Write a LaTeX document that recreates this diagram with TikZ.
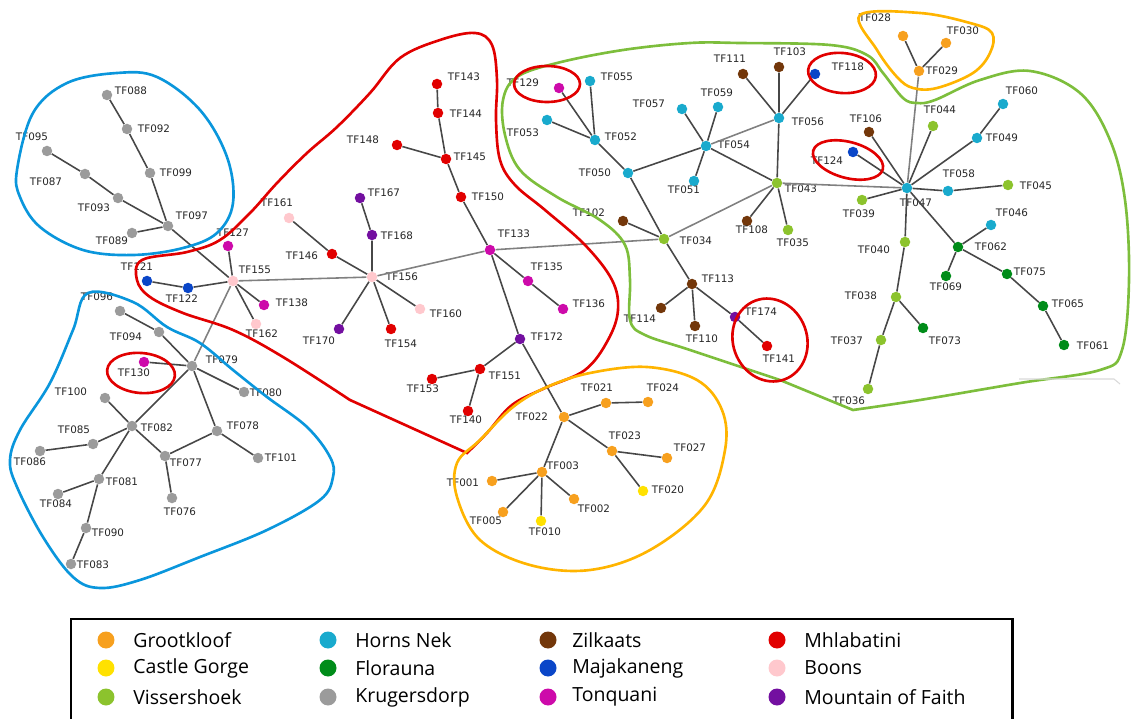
\documentclass[tikz,border=0pt]{standalone}
\usepackage{fontspec}
\usepackage{tikz}
\usetikzlibrary{shapes.geometric}
\setmainfont{DejaVu Sans}
\newfontfamily\legendfont{Open Sans}

\definecolor{grk}{RGB}{247,160,30}
\definecolor{cas}{RGB}{255,225,0}
\definecolor{vis}{RGB}{140,195,45}
\definecolor{hor}{RGB}{25,170,205}
\definecolor{flo}{RGB}{0,140,25}
\definecolor{kru}{RGB}{155,155,155}
\definecolor{zil}{RGB}{115,55,10}
\definecolor{maj}{RGB}{10,70,200}
\definecolor{ton}{RGB}{205,10,170}
\definecolor{mhl}{RGB}{225,0,0}
\definecolor{boo}{RGB}{255,200,205}
\definecolor{mof}{RGB}{115,15,160}
\definecolor{hblue}{RGB}{10,150,220}
\definecolor{hred}{RGB}{225,0,0}
\definecolor{hgreen}{RGB}{125,190,60}
\definecolor{hora}{RGB}{255,180,0}

\begin{document}
\begin{tikzpicture}[x=0.02cm, y=-0.02cm,
  dot/.style={circle, inner sep=0pt, minimum size=0.21cm},
  lbl/.style={inner sep=0pt, text=black!85, font=\fontsize{5.9}{7}\selectfont},
  lnk/.style={line width=0.9pt, color=black!72},
  far/.style={line width=0.9pt, color=black!50},
  hull/.style={line width=1.5pt},
  ring/.style={line width=1.5pt, color=hred},
  swatch/.style={circle, inner sep=0pt, minimum size=0.34cm},
  keytext/.style={anchor=west, inner sep=0pt, font=\legendfont\fontsize{11.1}{13}\selectfont}]
\useasboundingbox (0, 0) rectangle (1132, 719);

% Krugersdorp, upper cluster
\node [dot, fill=kru] (tf088) at (107, 95) {};  \node [lbl] (l088) at (131, 91) {TF088};
\node [dot, fill=kru] (tf092) at (127, 129) {}; \node [lbl] (l092) at (154, 129) {TF092};
\node [dot, fill=kru] (tf095) at (47, 151) {};  \node [lbl] (l095) at (32, 137) {TF095};
\node [dot, fill=kru] (tf087) at (85, 174) {};  \node [lbl] (l087) at (46, 182) {TF087};
\node [dot, fill=kru] (tf099) at (150, 173) {}; \node [lbl] (l099) at (176, 173) {TF099};
\node [dot, fill=kru] (tf093) at (118, 198) {}; \node [lbl] (l093) at (94, 208) {TF093};
\node [dot, fill=kru] (tf097) at (168, 226) {}; \node [lbl] (l097) at (192, 216) {TF097};
\node [dot, fill=kru] (tf089) at (132, 233) {}; \node [lbl] (l089) at (112, 241) {TF089};

% Krugersdorp, lower cluster
\node [dot, fill=kru] (tf096) at (120, 311) {}; \node [lbl] (l096) at (97, 297) {TF096};
\node [dot, fill=kru] (tf094) at (159, 332) {}; \node [lbl] (l094) at (126, 337) {TF094};
\node [dot, fill=ton] (tf130) at (144, 362) {}; \node [lbl] (l130) at (134, 373) {TF130};
\node [dot, fill=kru] (tf079) at (192, 366) {}; \node [lbl] (l079) at (222, 360) {TF079};
\node [dot, fill=kru] (tf080) at (244, 392) {}; \node [lbl] (l080) at (266, 393) {TF080};
\node [dot, fill=kru] (tf100) at (105, 398) {}; \node [lbl] (l100) at (71, 392) {TF100};
\node [dot, fill=kru] (tf082) at (132, 426) {}; \node [lbl] (l082) at (157, 428) {TF082};
\node [dot, fill=kru] (tf078) at (217, 431) {}; \node [lbl] (l078) at (243, 426) {TF078};
\node [dot, fill=kru] (tf085) at (93, 444) {};  \node [lbl] (l085) at (74, 430) {TF085};
\node [dot, fill=kru] (tf086) at (40, 451) {};  \node [lbl] (l086) at (30, 462) {TF086};
\node [dot, fill=kru] (tf077) at (165, 456) {}; \node [lbl] (l077) at (186, 463) {TF077};
\node [dot, fill=kru] (tf101) at (258, 458) {}; \node [lbl] (l101) at (281, 458) {TF101};
\node [dot, fill=kru] (tf081) at (99, 479) {};  \node [lbl] (l081) at (122, 482) {TF081};
\node [dot, fill=kru] (tf084) at (58, 494) {};  \node [lbl] (l084) at (56, 504) {TF084};
\node [dot, fill=kru] (tf076) at (172, 498) {}; \node [lbl] (l076) at (180, 512) {TF076};
\node [dot, fill=kru] (tf090) at (86, 528) {};  \node [lbl] (l090) at (108, 533) {TF090};
\node [dot, fill=kru] (tf083) at (71, 564) {};  \node [lbl] (l083) at (93, 565) {TF083};

% middle cluster
\node [dot, fill=mhl] (tf143) at (437, 84) {};  \node [lbl] (l143) at (464, 77) {TF143};
\node [dot, fill=mhl] (tf144) at (438, 113) {}; \node [lbl] (l144) at (466, 114) {TF144};
\node [dot, fill=mhl] (tf148) at (397, 145) {}; \node [lbl] (l148) at (363, 140) {TF148};
\node [dot, fill=mhl] (tf145) at (446, 159) {}; \node [lbl] (l145) at (470, 157) {TF145};
\node [dot, fill=mhl] (tf150) at (461, 197) {}; \node [lbl] (l150) at (488, 197) {TF150};
\node [dot, fill=ton] (tf133) at (490, 250) {}; \node [lbl] (l133) at (514, 234) {TF133};
\node [dot, fill=mof] (tf167) at (360, 198) {}; \node [lbl] (l167) at (384, 193) {TF167};
\node [dot, fill=mof] (tf168) at (372, 235) {}; \node [lbl] (l168) at (397, 236) {TF168};
\node [dot, fill=boo] (tf161) at (289, 218) {}; \node [lbl] (l161) at (277, 203) {TF161};
\node [dot, fill=mhl] (tf146) at (332, 254) {}; \node [lbl] (l146) at (302, 256) {TF146};
\node [dot, fill=boo] (tf156) at (372, 277) {}; \node [lbl] (l156) at (402, 277) {TF156};
\node [dot, fill=boo] (tf155) at (233, 281) {}; \node [lbl] (l155) at (255, 270) {TF155};
\node [dot, fill=ton] (tf127) at (228, 246) {}; \node [lbl] (l127) at (233, 233) {TF127};
\node [dot, fill=maj] (tf121) at (147, 281) {}; \node [lbl] (l121) at (137, 267) {TF121};
\node [dot, fill=maj] (tf122) at (188, 288) {}; \node [lbl] (l122) at (182, 299) {TF122};
\node [dot, fill=ton] (tf138) at (264, 305) {}; \node [lbl] (l138) at (292, 303) {TF138};
\node [dot, fill=boo] (tf162) at (256, 324) {}; \node [lbl] (l162) at (262, 334) {TF162};
\node [dot, fill=mof] (tf170) at (339, 329) {}; \node [lbl] (l170) at (319, 341) {TF170};
\node [dot, fill=mhl] (tf154) at (391, 329) {}; \node [lbl] (l154) at (401, 344) {TF154};
\node [dot, fill=boo] (tf160) at (420, 309) {}; \node [lbl] (l160) at (446, 314) {TF160};
\node [dot, fill=ton] (tf135) at (528, 281) {}; \node [lbl] (l135) at (547, 267) {TF135};
\node [dot, fill=ton] (tf136) at (563, 309) {}; \node [lbl] (l136) at (589, 304) {TF136};
\node [dot, fill=mof] (tf172) at (520, 339) {}; \node [lbl] (l172) at (547, 337) {TF172};
\node [dot, fill=mhl] (tf151) at (480, 369) {}; \node [lbl] (l151) at (505, 376) {TF151};
\node [dot, fill=mhl] (tf153) at (432, 379) {}; \node [lbl] (l153) at (423, 389) {TF153};
\node [dot, fill=mhl] (tf140) at (468, 411) {}; \node [lbl] (l140) at (466, 420) {TF140};

% Grootkloof, lower cluster
\node [dot, fill=grk] (tf022) at (564, 417) {}; \node [lbl] (l022) at (532, 417) {TF022};
\node [dot, fill=grk] (tf021) at (606, 403) {}; \node [lbl] (l021) at (597, 388) {TF021};
\node [dot, fill=grk] (tf024) at (648, 402) {}; \node [lbl] (l024) at (663, 388) {TF024};
\node [dot, fill=grk] (tf023) at (612, 451) {}; \node [lbl] (l023) at (625, 436) {TF023};
\node [dot, fill=grk] (tf027) at (667, 458) {}; \node [lbl] (l027) at (690, 448) {TF027};
\node [dot, fill=grk] (tf003) at (542, 472) {}; \node [lbl] (l003) at (563, 466) {TF003};
\node [dot, fill=grk] (tf001) at (492, 481) {}; \node [lbl] (l001) at (463, 483) {TF001};
\node [dot, fill=grk] (tf002) at (574, 499) {}; \node [lbl] (l002) at (594, 509) {TF002};
\node [dot, fill=grk] (tf005) at (503, 512) {}; \node [lbl] (l005) at (486, 521) {TF005};
\node [dot, fill=cas] (tf010) at (541, 521) {}; \node [lbl] (l010) at (545, 532) {TF010};
\node [dot, fill=cas] (tf020) at (643, 491) {}; \node [lbl] (l020) at (668, 490) {TF020};

% Horns Nek and neighbours
\node [dot, fill=ton] (tf129) at (559, 88) {};  \node [lbl] (l129) at (523, 83) {TF129};
\node [dot, fill=hor] (tf055) at (590, 81) {};  \node [lbl] (l055) at (617, 77) {TF055};
\node [dot, fill=hor] (tf053) at (547, 120) {}; \node [lbl] (l053) at (523, 133) {TF053};
\node [dot, fill=hor] (tf052) at (595, 140) {}; \node [lbl] (l052) at (621, 137) {TF052};
\node [dot, fill=hor] (tf050) at (628, 173) {}; \node [lbl] (l050) at (595, 173) {TF050};
\node [dot, fill=hor] (tf057) at (682, 109) {}; \node [lbl] (l057) at (649, 104) {TF057};
\node [dot, fill=hor] (tf059) at (718, 107) {}; \node [lbl] (l059) at (717, 93) {TF059};
\node [dot, fill=hor] (tf054) at (706, 146) {}; \node [lbl] (l054) at (734, 145) {TF054};
\node [dot, fill=hor] (tf051) at (694, 181) {}; \node [lbl] (l051) at (684, 190) {TF051};
\node [dot, fill=zil] (tf111) at (743, 74) {};  \node [lbl] (l111) at (730, 59) {TF111};
\node [dot, fill=zil] (tf103) at (779, 67) {};  \node [lbl] (l103) at (790, 52) {TF103};
\node [dot, fill=hor] (tf056) at (779, 118) {}; \node [lbl] (l056) at (808, 122) {TF056};
\node [dot, fill=vis] (tf043) at (777, 183) {}; \node [lbl] (l043) at (801, 189) {TF043};
\node [dot, fill=zil] (tf108) at (747, 221) {}; \node [lbl] (l108) at (752, 230) {TF108};
\node [dot, fill=vis] (tf035) at (788, 230) {}; \node [lbl] (l035) at (793, 243) {TF035};
\node [dot, fill=vis] (tf034) at (664, 239) {}; \node [lbl] (l034) at (696, 241) {TF034};
\node [dot, fill=zil] (tf102) at (623, 221) {}; \node [lbl] (l102) at (589, 213) {TF102};
\node [dot, fill=zil] (tf113) at (692, 284) {}; \node [lbl] (l113) at (718, 279) {TF113};
\node [dot, fill=zil] (tf114) at (661, 308) {}; \node [lbl] (l114) at (640, 319) {TF114};
\node [dot, fill=zil] (tf110) at (695, 326) {}; \node [lbl] (l110) at (702, 339) {TF110};
\node [dot, fill=mof] (tf174) at (735, 317) {}; \node [lbl] (l174) at (761, 312) {TF174};
\node [dot, fill=mhl] (tf141) at (767, 346) {}; \node [lbl] (l141) at (779, 359) {TF141};
\node [dot, fill=maj] (tf118) at (815, 74) {};  \node [lbl] (l118) at (848, 67) {TF118};
\node [dot, fill=maj] (tf124) at (853, 152) {}; \node [lbl] (l124) at (827, 161) {TF124};
\node [dot, fill=zil] (tf106) at (869, 132) {}; \node [lbl] (l106) at (866, 119) {TF106};

% right-hand cluster
\node [dot, fill=grk] (tf028) at (903, 36) {};  \node [lbl] (l028) at (875, 18) {TF028};
\node [dot, fill=grk] (tf030) at (946, 43) {};  \node [lbl] (l030) at (963, 31) {TF030};
\node [dot, fill=grk] (tf029) at (919, 71) {};  \node [lbl] (l029) at (942, 71) {TF029};
\node [dot, fill=hor] (tf060) at (1003, 104) {}; \node [lbl] (l060) at (1022, 91) {TF060};
\node [dot, fill=vis] (tf044) at (933, 126) {}; \node [lbl] (l044) at (940, 110) {TF044};
\node [dot, fill=hor] (tf049) at (977, 138) {}; \node [lbl] (l049) at (1002, 138) {TF049};
\node [dot, fill=hor] (tf047) at (907, 188) {}; \node [lbl] (l047) at (916, 203) {TF047};
\node [dot, fill=hor] (tf058) at (948, 191) {}; \node [lbl] (l058) at (959, 174) {TF058};
\node [dot, fill=vis] (tf045) at (1008, 185) {}; \node [lbl] (l045) at (1036, 186) {TF045};
\node [dot, fill=vis] (tf039) at (862, 200) {}; \node [lbl] (l039) at (859, 214) {TF039};
\node [dot, fill=hor] (tf046) at (991, 225) {}; \node [lbl] (l046) at (1012, 213) {TF046};
\node [dot, fill=vis] (tf040) at (905, 242) {}; \node [lbl] (l040) at (874, 250) {TF040};
\node [dot, fill=flo] (tf062) at (958, 247) {}; \node [lbl] (l062) at (991, 247) {TF062};
\node [dot, fill=flo] (tf069) at (946, 276) {}; \node [lbl] (l069) at (946, 287) {TF069};
\node [dot, fill=flo] (tf075) at (1007, 274) {}; \node [lbl] (l075) at (1030, 272) {TF075};
\node [dot, fill=flo] (tf065) at (1043, 306) {}; \node [lbl] (l065) at (1068, 304) {TF065};
\node [dot, fill=flo] (tf061) at (1064, 345) {}; \node [lbl] (l061) at (1093, 346) {TF061};
\node [dot, fill=vis] (tf038) at (896, 297) {}; \node [lbl] (l038) at (861, 296) {TF038};
\node [dot, fill=flo] (tf073) at (923, 328) {}; \node [lbl] (l073) at (945, 341) {TF073};
\node [dot, fill=vis] (tf037) at (881, 340) {}; \node [lbl] (l037) at (847, 341) {TF037};
\node [dot, fill=vis] (tf036) at (868, 389) {}; \node [lbl] (l036) at (849, 401) {TF036};

% links
\draw [lnk] (tf088) -- (tf092) -- (tf099) -- (tf097);
\draw [lnk] (tf095) -- (tf087) -- (tf093) -- (tf097);
\draw [lnk] (tf089) -- (tf097) -- (tf155);
\draw [lnk] (tf096) -- (tf094) -- (tf079);
\draw [lnk] (tf130) -- (tf079) -- (tf080);
\draw [lnk] (tf079) -- (tf078) -- (tf101);
\draw [lnk] (tf079) -- (tf082) -- (tf100);
\draw [lnk] (tf086) -- (tf085) -- (tf082);
\draw [lnk] (tf082) -- (tf077) -- (tf078);
\draw [lnk] (tf077) -- (tf076);
\draw [lnk] (tf082) -- (tf081) -- (tf090) -- (tf083);
\draw [lnk] (tf081) -- (tf084);
\draw [far] (tf079) -- (tf155);
\draw [lnk] (tf121) -- (tf122) -- (tf155);
\draw [lnk] (tf127) -- (tf155) -- (tf138);
\draw [lnk] (tf155) -- (tf162);
\draw [far] (tf155) -- (tf156) -- (tf133);
\draw [lnk] (tf161) -- (tf146) -- (tf156);
\draw [lnk] (tf167) -- (tf168) -- (tf156);
\draw [lnk] (tf170) -- (tf156) -- (tf154);
\draw [lnk] (tf156) -- (tf160);
\draw [lnk] (tf143) -- (tf144) -- (tf145) -- (tf150) -- (tf133);
\draw [lnk] (tf148) -- (tf145);
\draw [lnk] (tf133) -- (tf135) -- (tf136);
\draw [lnk] (tf133) -- (tf172) -- (tf022);
\draw [lnk] (tf172) -- (tf151) -- (tf153);
\draw [lnk] (tf151) -- (tf140);
\draw [lnk] (tf022) -- (tf021) -- (tf024);
\draw [lnk] (tf022) -- (tf023) -- (tf027);
\draw [lnk] (tf023) -- (tf020);
\draw [lnk] (tf022) -- (tf003) -- (tf001);
\draw [lnk] (tf002) -- (tf003) -- (tf005);
\draw [lnk] (tf003) -- (tf010);
\draw [far] (tf133) -- (tf034);
\draw [lnk] (tf129) -- (tf052) -- (tf055);
\draw [lnk] (tf053) -- (tf052) -- (tf050) -- (tf034);
\draw [lnk] (tf050) -- (tf054) -- (tf057);
\draw [lnk] (tf059) -- (tf054) -- (tf051);
\draw [lnk] (tf054) -- (tf043);
\draw [far] (tf054) -- (tf056);
\draw [lnk] (tf111) -- (tf056) -- (tf103);
\draw [lnk] (tf118) -- (tf056) -- (tf043);
\draw [far] (tf034) -- (tf043) -- (tf047);
\draw [lnk] (tf108) -- (tf043) -- (tf035);
\draw [lnk] (tf102) -- (tf034) -- (tf113) -- (tf114);
\draw [lnk] (tf113) -- (tf110);
\draw [lnk] (tf113) -- (tf174) -- (tf141);
\draw [lnk] (tf028) -- (tf029) -- (tf030);
\draw [far] (tf029) -- (tf047);
\draw [lnk] (tf060) -- (tf049) -- (tf047);
\draw [lnk] (tf044) -- (tf047) -- (tf106);
\draw [lnk] (tf124) -- (tf047) -- (tf039);
\draw [lnk] (tf047) -- (tf058) -- (tf045);
\draw [lnk] (tf047) -- (tf040) -- (tf038) -- (tf037) -- (tf036);
\draw [lnk] (tf038) -- (tf073);
\draw [lnk] (tf047) -- (tf062) -- (tf075) -- (tf065) -- (tf061);
\draw [lnk] (tf046) -- (tf062) -- (tf069);

% hulls
\draw [hull, hblue] plot [smooth cycle, tension=0.6] coordinates {(17,170) (33,113) (67,83) (117,73) (157,77) (200,110) (227,157) (233,203) (217,233) (183,248) (133,255) (83,250) (40,227) (20,197)};
\draw [hull, hblue] plot [smooth cycle, tension=0.6] coordinates {(88,293) (133,302) (167,327) (200,343) (233,370) (267,397) (307,427) (330,457) (333,477) (320,500) (267,530) (200,557) (140,580) (100,588) (73,577) (43,537) (17,487) (10,460) (20,430) (50,383) (73,330)};
\draw [hull, hred] plot [smooth, tension=0.6] coordinates {(350,400) (283,357) (233,330) (183,313) (150,297) (137,280) (142,260) (187,252) (220,240) (250,213) (277,183) (307,153) (337,127) (370,93) (400,58) (440,40) (475,33) (492,45) (497,80) (496,120) (500,160) (515,185) (545,210) (585,245) (612,280) (618,310) (608,340) (585,370) (545,388) (512,405) (487,433) (467,453)} -- cycle;
\draw [hull, hgreen] plot [smooth, tension=0.6] coordinates {(853,410) (920,400) (1020,383) (1100,370) (1122,350) (1129,280) (1125,200) (1110,140) (1080,93) (1030,71) (980,80) (935,100) (917,103) (903,98) (883,73) (867,55) (830,45) (740,43) (690,43) (623,50) (557,63) (517,77) (503,100) (505,135) (520,170) (557,197) (600,220) (625,245) (630,280) (630,320) (645,335) (690,350) (780,380)} -- cycle;
\draw [hull, hora] plot [smooth cycle, tension=0.6] coordinates {(480,440) (513,407) (547,387) (590,373) (647,367) (697,380) (722,410) (725,450) (705,505) (650,550) (590,570) (530,565) (480,540) (457,497) (457,463)};
\draw [hull, hora] plot [smooth cycle, tension=0.6] coordinates {(860,15) (920,13) (970,23) (992,33) (990,53) (973,73) (937,88) (913,88) (897,77) (877,50)};

% red rings
\draw [ring] (547, 84) ellipse [x radius=33, y radius=18];
\draw [ring, rotate around={-5:(141,373)}] (141, 373) ellipse [x radius=34, y radius=20];
\draw [ring, rotate around={-5:(842,73)}] (842, 73) ellipse [x radius=34, y radius=20];
\draw [ring, rotate around={-15:(848,160)}] (848, 160) ellipse [x radius=36, y radius=18];
\draw [ring, rotate around={20:(770,340)}] (770, 340) ellipse [x radius=37, y radius=42];

% faint mark at lower right
\draw [black!15, line width=0.6pt] (1019, 379) -- (1114, 379) -- (1120, 384);

% legend
\draw [line width=1.7pt] (71, 619) rectangle (1012, 725);
\node [swatch, fill=grk] (k1) at (106, 640) {}; \node [keytext] (t1) at (133, 640) {Grootkloof};
\node [swatch, fill=cas] (k2) at (106, 668) {}; \node [keytext] (t2) at (133, 668) {Castle Gorge};
\node [swatch, fill=vis] (k3) at (106, 697) {}; \node [keytext] (t3) at (133, 697) {Vissershoek};
\node [swatch, fill=hor] (k4) at (328, 640) {}; \node [keytext] (t4) at (355, 640) {Horns Nek};
\node [swatch, fill=flo] (k5) at (328, 668) {}; \node [keytext] (t5) at (355, 668) {Florauna};
\node [swatch, fill=kru] (k6) at (328, 697) {}; \node [keytext] (t6) at (355, 697) {Krugersdorp};
\node [swatch, fill=zil] (k7) at (548, 640) {}; \node [keytext] (t7) at (572, 640) {Zilkaats};
\node [swatch, fill=maj] (k8) at (548, 668) {}; \node [keytext] (t8) at (572, 668) {Majakaneng};
\node [swatch, fill=ton] (k9) at (548, 697) {}; \node [keytext] (t9) at (572, 697) {Tonquani};
\node [swatch, fill=mhl] (k10) at (777, 640) {}; \node [keytext] (t10) at (804, 640) {Mhlabatini};
\node [swatch, fill=boo] (k11) at (777, 668) {}; \node [keytext] (t11) at (804, 668) {Boons};
\node [swatch, fill=mof] (k12) at (777, 697) {}; \node [keytext] (t12) at (804, 697) {Mountain of Faith};
\end{tikzpicture}
\end{document}
